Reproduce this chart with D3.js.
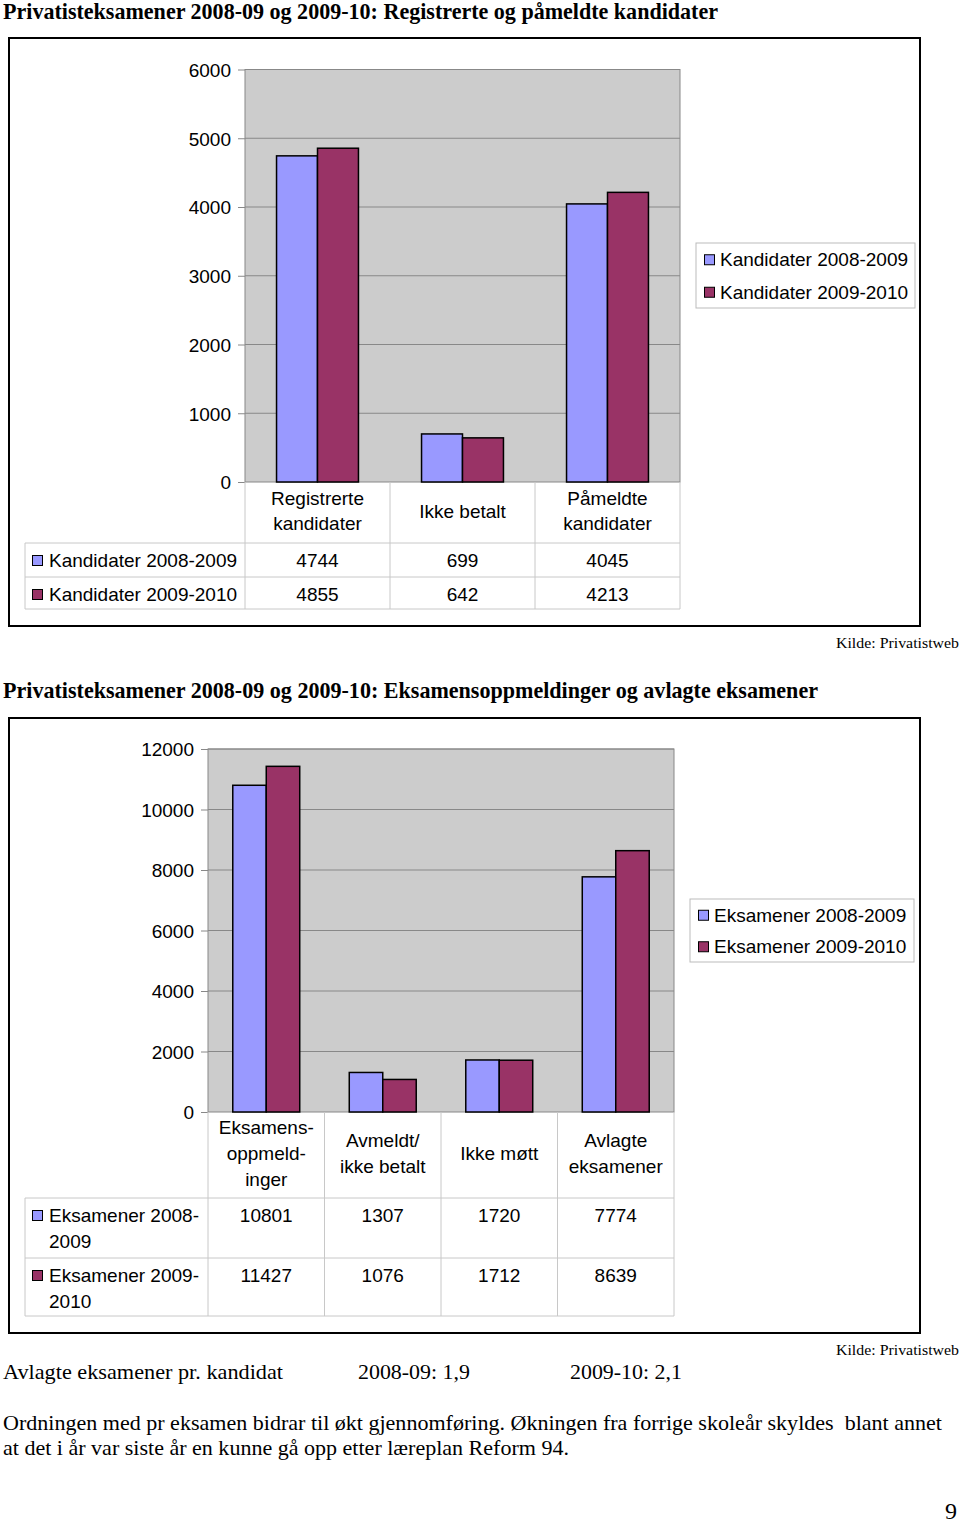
<!DOCTYPE html>
<html><head><meta charset="utf-8">
<script src="https://cdn.jsdelivr.net/npm/d3@7"></script>
<style>body{margin:0;background:#fff}svg{display:block}</style>
</head><body>
<script>
// ---- Data ----
const title1 = "Privatisteksamener 2008-09 og 2009-10: Registrerte og påmeldte kandidater";
const categories1 = [["Registrerte","kandidater"],["Ikke betalt"],["Påmeldte","kandidater"]];
const series1Names = [["Kandidater 2008-2009"],["Kandidater 2009-2010"]];
const series1a = [4744, 699, 4045];
const series1b = [4855, 642, 4213];
const ticks1 = [0,1000,2000,3000,4000,5000,6000];

const title2 = "Privatisteksamener 2008-09 og 2009-10: Eksamensoppmeldinger og avlagte eksamener";
const categories2 = [["Eksamens-","oppmeld-","inger"],["Avmeldt/","ikke betalt"],["Ikke møtt"],["Avlagte","eksamener"]];
const series2Names = [["Eksamener 2008-","2009"],["Eksamener 2009-","2010"]];
const legend2Names = ["Eksamener 2008-2009","Eksamener 2009-2010"];
const series2a = [10801, 1307, 1720, 7774];
const series2b = [11427, 1076, 1712, 8639];
const ticks2 = [0,2000,4000,6000,8000,10000,12000];

const source = "Kilde: Privatistweb";
const ratioLabel = "Avlagte eksamener pr. kandidat";
const ratioValues = ["2008-09: 1,9","2009-10: 2,1"];
const paragraph = ["Ordningen med pr eksamen bidrar til økt gjennomføring. Økningen fra forrige skoleår skyldes  blant annet",
                   "at det i år var siste år en kunne gå opp etter læreplan Reform 94."];
const pageNo = "9";

const colors = ["#9999ff","#993366"];
const SANS = "'Liberation Sans', Arial, sans-serif";
const SERIF = "'Liberation Serif', 'Times New Roman', serif";

const svg = d3.select("body").append("svg").attr("width",960).attr("height",1523);

function serifText(x, y, txt, size, len, opts={}) {
  const t = svg.append("text").attr("x",x).attr("y",y).text(txt)
    .attr("font-family",SERIF).attr("font-size",size).attr("fill","#000")
    .attr("xml:space","preserve").style("white-space","pre");
  if (opts.bold) t.attr("font-weight","bold");
  if (opts.anchor) t.attr("text-anchor",opts.anchor);
  if (len) t.attr("textLength",len).attr("lengthAdjust","spacingAndGlyphs");
  return t;
}

function drawChart(cfg) {
  const g = svg.append("g");
  g.append("rect").attr("x",cfg.frame[0]).attr("y",cfg.frame[1])
    .attr("width",cfg.frame[2]-cfg.frame[0]).attr("height",cfg.frame[3]-cfg.frame[1])
    .attr("fill","#fff").attr("stroke","#000").attr("stroke-width",2);
  const [px0, py0, px1, py1] = cfg.plot;
  const y = d3.scaleLinear().domain([0, d3.max(cfg.ticks)]).range([py1, py0]);
  const x0 = d3.scaleBand().domain(d3.range(cfg.cats.length)).range([px0, px1]).paddingInner(0).paddingOuter(0);
  const x1 = d3.scaleBand().domain([0,1]).range([0, x0.bandwidth()]).paddingInner(0).paddingOuter(cfg.pad);
  g.append("rect").attr("x",px0).attr("y",py0).attr("width",px1-px0).attr("height",py1-py0)
    .attr("fill","#cccccc").attr("stroke","#888").attr("stroke-width",1);
  g.selectAll(".grid").data(cfg.ticks.filter(t=>t>0)).enter().append("line")
    .attr("x1",px0).attr("x2",px1).attr("y1",d=>y(d)).attr("y2",d=>y(d))
    .attr("stroke","#888").attr("stroke-width",1);
  const axis = d3.axisLeft(y).tickValues(cfg.ticks).tickSize(7).tickPadding(7).tickFormat(d3.format("d"));
  const ax = g.append("g").attr("transform",`translate(${px0},0)`).call(axis);
  ax.select(".domain").remove();
  ax.selectAll(".tick line").attr("stroke","#888");
  ax.selectAll(".tick text").attr("font-family",SANS).attr("font-size",19).attr("fill","#000").attr("dy","0.36em");
  const data = cfg.cats.map((c,i)=>[cfg.a[i], cfg.b[i]]);
  const grp = g.selectAll(".cat").data(data).enter().append("g")
    .attr("transform",(d,i)=>`translate(${x0(i)},0)`);
  grp.selectAll("rect").data(d=>d).enter().append("rect")
    .attr("x",(d,j)=>x1(j)).attr("width",x1.bandwidth())
    .attr("y",d=>y(d)).attr("height",d=>y(0)-y(d))
    .attr("fill",(d,j)=>colors[j]).attr("stroke","#000").attr("stroke-width",1.5);
  const L = cfg.legend;
  g.append("rect").attr("x",L.x).attr("y",L.y).attr("width",L.w).attr("height",L.h)
    .attr("fill","#fff").attr("stroke","#bbb");
  cfg.legendNames.forEach((n,j)=>{
    const cy = L.y + L.h*(j*2+1)/4;
    g.append("rect").attr("x",L.x+8.5).attr("y",cy-4.5).attr("width",10).attr("height",10)
      .attr("fill",colors[j]).attr("stroke","#000").attr("stroke-width",1);
    g.append("text").attr("x",L.x+24).attr("y",cy).attr("dy","0.36em").text(n)
      .attr("font-family",SANS).attr("font-size",19);
  });
  const T = cfg.table;
  const lc = "#c8c8c8";
  const line=(a,b,c,d)=>g.append("line").attr("x1",a).attr("y1",b).attr("x2",c).attr("y2",d).attr("stroke",lc).attr("stroke-width",1);
  line(T.left, T.h0, px1, T.h0);
  line(T.left, T.h1, px1, T.h1);
  line(T.left, T.h2, px1, T.h2);
  line(T.left, T.h0, T.left, T.h2);
  d3.range(cfg.cats.length+1).forEach(i=>{
    const xx = i<cfg.cats.length ? x0(i) : px1;
    line(xx, py1, xx, T.h2);
  });
  cfg.cats.forEach((lines,i)=>{
    const cx = x0(i)+x0.bandwidth()/2;
    const mid = (py1+T.h0)/2 - 1.5;
    lines.forEach((l,k)=>{
      g.append("text").attr("x",cx).attr("y",mid + (k-(lines.length-1)/2)*T.lh).attr("dy","0.36em")
        .attr("text-anchor","middle").text(l).attr("font-family",SANS).attr("font-size",19);
    });
  });
  [cfg.a, cfg.b].forEach((vals,j)=>{
    const top = j===0 ? T.h0 : T.h1;
    const cy = top + T.firstY;
    g.append("rect").attr("x",T.left+7.5).attr("y",cy-4.5).attr("width",10).attr("height",10)
      .attr("fill",colors[j]).attr("stroke","#000").attr("stroke-width",1);
    cfg.rowNames[j].forEach((n,k)=>{
      g.append("text").attr("x",T.left+24).attr("y",cy + k*T.lh).attr("dy","0.36em")
        .text(n).attr("font-family",SANS).attr("font-size",19);
    });
    vals.forEach((v,i)=>{
      g.append("text").attr("x",x0(i)+x0.bandwidth()/2).attr("y",cy).attr("dy","0.36em")
        .attr("text-anchor","middle").text(v).attr("font-family",SANS).attr("font-size",19);
    });
  });
}

serifText(3, 19, title1, 23, 715, {bold:true});
drawChart({
  frame:[9,38,920,626], plot:[245,69.5,680,482], ticks:ticks1, cats:categories1,
  a:series1a, b:series1b, pad:0.77,
  legend:{x:696,y:243,w:219,h:65}, legendNames:series1Names.map(d=>d[0]),
  rowNames:series1Names,
  table:{left:25,h0:543,h1:577,h2:609,lh:25,firstY:17}
});
serifText(959, 648, source, 15, 123, {anchor:"end"});

serifText(3, 698, title2, 23, 815, {bold:true});
drawChart({
  frame:[9,718,920,1333], plot:[208,749,674,1112], ticks:ticks2, cats:categories2,
  a:series2a, b:series2b, pad:0.74,
  legend:{x:690,y:899,w:224,h:63}, legendNames:legend2Names,
  rowNames:series2Names,
  table:{left:25,h0:1198,h1:1258,h2:1316,lh:26,firstY:17}
});
serifText(959, 1355, source, 15, 123, {anchor:"end"});

serifText(3, 1379, ratioLabel, 22, 280);
serifText(358, 1379, ratioValues[0], 22, 112);
serifText(570, 1379, ratioValues[1], 22, 112);
serifText(3, 1430, paragraph[0], 22, 939);
serifText(3, 1455, paragraph[1], 22, 566);
serifText(957, 1519, pageNo, 24, null, {anchor:"end"});
</script>
</body></html>
